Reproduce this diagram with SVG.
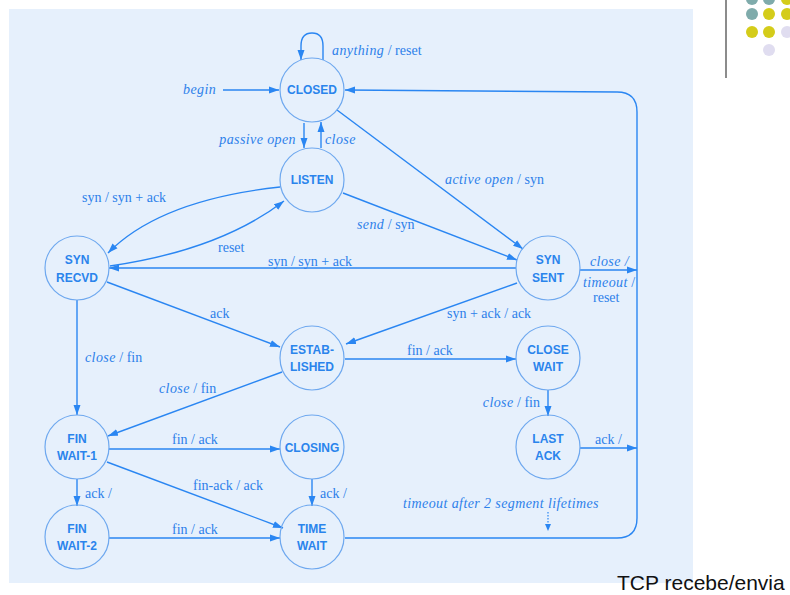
<svg xmlns="http://www.w3.org/2000/svg" width="790" height="595" viewBox="0 0 790 595">
<defs>
<style>
.bg{fill:#e6f0fc}
.node circle{fill:none;stroke:#6ea8ef;stroke-width:1.2}
.node text{font-family:"Liberation Sans",Arial,sans-serif;font-weight:bold;font-size:12px;fill:#2a84ec;text-anchor:middle}
.edge{fill:none;stroke:#2a86f2;stroke-width:1.4}
.lbl{font-family:"Liberation Serif","Times New Roman",serif;font-size:14px;fill:#2d80ea}
.it{font-style:italic;letter-spacing:0.4px}
</style>
<marker id="ah" markerUnits="userSpaceOnUse" markerWidth="10" markerHeight="8" viewBox="0 0 10 8" refX="10" refY="4" orient="auto">
<path d="M0,0.5 L10,4 L0,7.5 Z" fill="#2a86f2"/>
</marker>
</defs>
<rect class="bg" x="9" y="9" width="684" height="574"/>
<line x1="726" y1="0" x2="726" y2="78" stroke="#666" stroke-width="1.5"/>
<g id="dots">
<circle cx="752" cy="-1" r="6" fill="#7fabab"/>
<circle cx="769" cy="-1" r="6" fill="#7fabab"/>
<circle cx="787" cy="-1" r="6" fill="#d4cc1a"/>
<circle cx="752" cy="14" r="6" fill="#7fabab"/>
<circle cx="769" cy="14" r="6" fill="#d4cc1a"/>
<circle cx="787" cy="14" r="6" fill="#d4cc1a"/>
<circle cx="752" cy="32" r="6" fill="#d4cc1a"/>
<circle cx="769" cy="32" r="6" fill="#d4cc1a"/>
<circle cx="787" cy="32" r="6" fill="#e0ddf0"/>
<circle cx="769" cy="50" r="6" fill="#e0ddf0"/>
</g>
<g id="connectors">
<path class="edge" d="M323,60 L323,46 Q323,33 312,33 Q301,33 301,46 L301,60" marker-end="url(#ah)"/>
<path class="edge" d="M223,90 L279,90" marker-end="url(#ah)"/>
<path class="edge" d="M304,123 L304,148" marker-end="url(#ah)"/>
<path class="edge" d="M321,148 L321,122" marker-end="url(#ah)"/>
<path class="edge" d="M337,110 L523,249" marker-end="url(#ah)"/>
<path class="edge" d="M343,193 L517,260" marker-end="url(#ah)"/>
<path class="edge" d="M280,187 Q160,200 108,253" marker-end="url(#ah)"/>
<path class="edge" d="M110,266 Q220,250 284,201" marker-end="url(#ah)"/>
<path class="edge" d="M516,268 L109,268" marker-end="url(#ah)"/>
<path class="edge" d="M107,282 L280,347" marker-end="url(#ah)"/>
<path class="edge" d="M517,283 L346,344" marker-end="url(#ah)"/>
<path class="edge" d="M77,300 L77,415" marker-end="url(#ah)"/>
<path class="edge" d="M282,372 L108,436" marker-end="url(#ah)"/>
<path class="edge" d="M345,359 L516,359" marker-end="url(#ah)"/>
<path class="edge" d="M548,390 L548,416" marker-end="url(#ah)"/>
<path class="edge" d="M580,448 L637,448" marker-end="url(#ah)"/>
<path class="edge" d="M580,270 L637,270" marker-end="url(#ah)"/>
<path class="edge" d="M109,449 L280,449" marker-end="url(#ah)"/>
<path class="edge" d="M107,462 L283,528" marker-end="url(#ah)"/>
<path class="edge" d="M77,479 L77,506" marker-end="url(#ah)"/>
<path class="edge" d="M312,479 L312,506" marker-end="url(#ah)"/>
<path class="edge" d="M109,538 L280,538" marker-end="url(#ah)"/>
<path class="edge" d="M345,538 L617,538 Q637,538 637,518 L637,112 Q637,92 617,92 L345,90" marker-end="url(#ah)"/>
<path d="M548,512 L548,524" fill="none" stroke="#2a86f2" stroke-width="1.2" stroke-dasharray="1.5,1.5"/>
<path d="M545,524 L551,524 L548,531 Z" fill="#2a86f2"/>
</g>
<g id="labels" class="lbl">
<text x="332" y="55"><tspan class="it">anything</tspan> / reset</text>
<text x="183" y="94" class="it">begin</text>
<text x="296" y="144" text-anchor="end" class="it">passive open</text>
<text x="325" y="144" class="it">close</text>
<text x="445" y="184"><tspan class="it">active open</tspan> / syn</text>
<text x="357" y="229"><tspan class="it">send</tspan> / syn</text>
<text x="82" y="202">syn / syn + ack</text>
<text x="218" y="252">reset</text>
<text x="268" y="266">syn / syn + ack</text>
<text x="590" y="266" class="it">close /</text>
<text x="583" y="287"><tspan class="it">timeout</tspan> /</text>
<text x="593" y="302">reset</text>
<text x="210" y="318">ack</text>
<text x="447" y="318">syn + ack / ack</text>
<text x="85" y="362"><tspan class="it">close</tspan> / fin</text>
<text x="407" y="355">fin / ack</text>
<text x="159" y="393"><tspan class="it">close</tspan> / fin</text>
<text x="540" y="407" text-anchor="end"><tspan class="it">close</tspan> / fin</text>
<text x="595" y="444">ack /</text>
<text x="172" y="444">fin / ack</text>
<text x="193" y="490">fin-ack / ack</text>
<text x="85" y="498">ack /</text>
<text x="320" y="498">ack /</text>
<text x="403" y="508" class="it">timeout after 2 segment lifetimes</text>
<text x="172" y="534">fin / ack</text>
</g>
<g id="closed" class="node"><circle cx="312" cy="90" r="32"/><text x="312" y="94">CLOSED</text></g>
<g id="listen" class="node"><circle cx="312" cy="180" r="32"/><text x="312" y="184">LISTEN</text></g>
<g id="synrecvd" class="node"><circle cx="77" cy="268" r="32"/><text x="77" y="264">SYN</text><text x="77" y="282">RECVD</text></g>
<g id="synsent" class="node"><circle cx="548" cy="268" r="32"/><text x="548" y="264">SYN</text><text x="548" y="282">SENT</text></g>
<g id="established" class="node"><circle cx="312" cy="358" r="32"/><text x="312" y="354">ESTAB-</text><text x="312" y="371">LISHED</text></g>
<g id="closewait" class="node"><circle cx="548" cy="358" r="32"/><text x="548" y="354">CLOSE</text><text x="548" y="371">WAIT</text></g>
<g id="finwait1" class="node"><circle cx="77" cy="447" r="32"/><text x="77" y="443">FIN</text><text x="77" y="460">WAIT-1</text></g>
<g id="closing" class="node"><circle cx="312" cy="447" r="32"/><text x="312" y="452">CLOSING</text></g>
<g id="lastack" class="node"><circle cx="548" cy="447" r="32"/><text x="548" y="443">LAST</text><text x="548" y="460">ACK</text></g>
<g id="finwait2" class="node"><circle cx="77" cy="537" r="32"/><text x="77" y="533">FIN</text><text x="77" y="550">WAIT-2</text></g>
<g id="timewait" class="node"><circle cx="312" cy="537" r="32"/><text x="312" y="533">TIME</text><text x="312" y="550">WAIT</text></g>
<text x="617" y="590" font-family="'Liberation Sans',Arial,sans-serif" font-size="21" fill="#111">TCP recebe/envia</text>
</svg>
